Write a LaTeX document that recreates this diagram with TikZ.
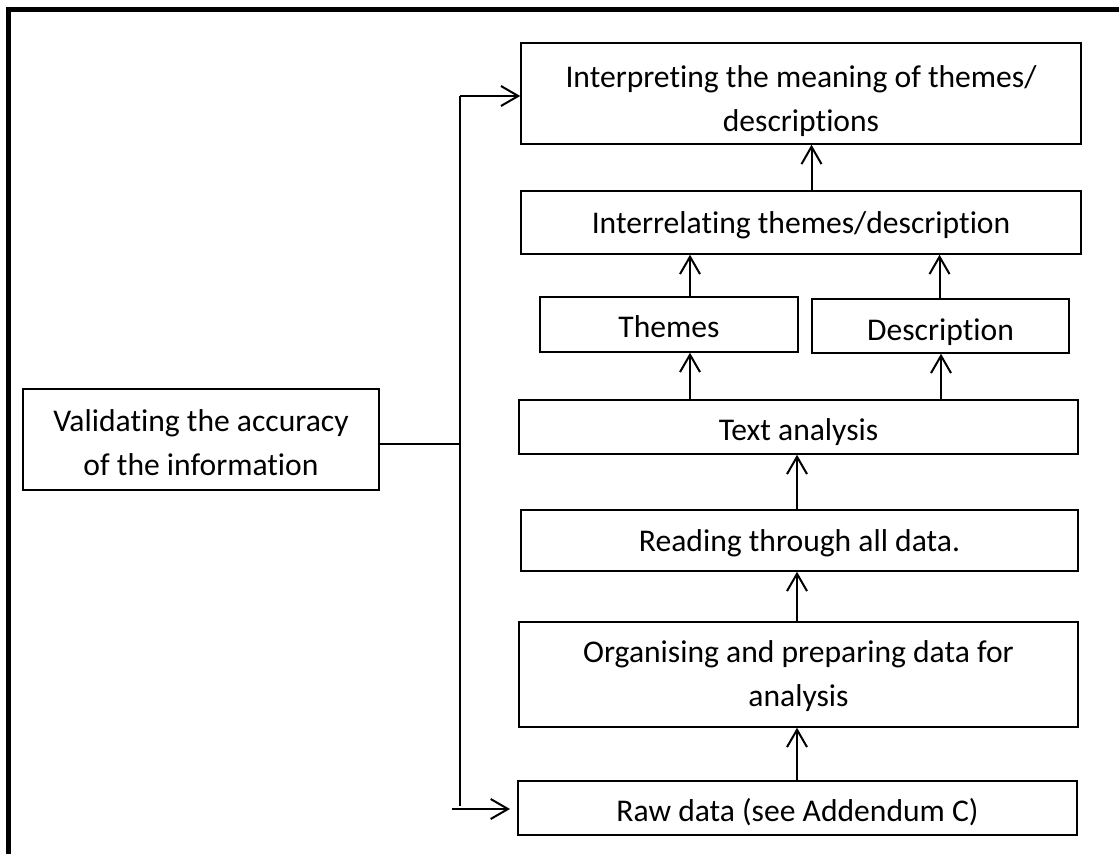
\documentclass[tikz,border=0pt]{standalone}
\usepackage{fontspec}
\setmainfont{Carlito}[Ligatures={NoCommon}]
\usetikzlibrary{arrows.meta}
\begin{document}
\begin{tikzpicture}[x=0.75pt,y=-0.75pt,
  box/.style={draw=black, line width=1.1pt, inner sep=0pt},
  boxtext/.style={inner sep=0pt, align=center,
    font=\fontsize{23.7}{33}\selectfont, text=black},
  conn/.style={line width=1.5pt},
  arr/.style={line width=1.5pt, -{Straight Barb[length=13pt,width=15pt]}},
  frameline/.style={line width=3.4pt, line join=miter}]
\useasboundingbox (0,0) rectangle (1119,853);
% frame (only top and left edges visible)
\draw[frameline] (8.5,860) -- (8.5,9.5) -- (1125,9.5);
% boxes
\node[box, minimum width=420pt, minimum height=75.75pt,
  label={[boxtext, yshift=-5.5pt]center:{Interpreting the meaning of themes/\\descriptions}}]
  (interp) at (801,93.5) {};
\node[box, minimum width=420pt, minimum height=47.25pt,
  label={[boxtext, yshift=-1.5pt]center:{\strut Interrelating themes/description}}]
  (interrel) at (801,222.5) {};
\node[box, minimum width=193.5pt, minimum height=41.25pt,
  label={[boxtext, yshift=-3.2pt]center:{\strut Themes}}]
  (themes) at (669,324.5) {};
\node[box, minimum width=192.75pt, minimum height=40.5pt,
  label={[boxtext, yshift=-4.2pt]center:{\strut Description}}]
  (desc) at (940.5,326) {};
\node[box, minimum width=419.25pt, minimum height=40.5pt,
  label={[boxtext, yshift=-3.6pt]center:{\strut Text analysis}}]
  (textan) at (798.5,427) {};
\node[box, minimum width=417.75pt, minimum height=45.75pt,
  label={[boxtext, yshift=-2pt]center:{\strut Reading through all data.}}]
  (reading) at (799.5,540.5) {};
\node[box, minimum width=419.25pt, minimum height=78.75pt,
  label={[boxtext, yshift=-1.5pt]center:{Organising and preparing data for\\analysis}}]
  (organ) at (798.5,674.5) {};
\node[box, minimum width=419.25pt, minimum height=40.5pt,
  label={[boxtext, yshift=-3.8pt]center:{\strut Raw data (see Addendum C)}}]
  (raw) at (797.5,808) {};
\node[box, minimum width=267pt, minimum height=75.75pt,
  label={[boxtext, yshift=-2.5pt]center:{Validating the accuracy\\of the information}}]
  (valid) at (201,439.5) {};
% helper coordinates
\coordinate (cInterp) at (811.5,0);
\coordinate (cThemes) at (690,0);
\coordinate (cDescA) at (939.5,0);
\coordinate (cDescB) at (941,0);
\coordinate (cMain) at (797,0);
\coordinate (bus) at (460,444);
\coordinate (busTop) at (460,96);
\coordinate (busBot) at (460,806);
\coordinate (rawIn) at (452,809);
\coordinate (rawTip) at (510,809);
% vertical flow arrows
\draw[arr] (interrel.north -| cInterp) -- (interp.south -| cInterp);
\draw[arr] (themes.north -| cThemes) -- (interrel.south -| cThemes);
\draw[arr] (desc.north -| cDescA) -- (interrel.south -| cDescA);
\draw[arr] (textan.north -| cThemes) -- (themes.south -| cThemes);
\draw[arr] (textan.north -| cDescB) -- (desc.south -| cDescB);
\draw[arr] (reading.north -| cMain) -- (textan.south -| cMain);
\draw[arr] (organ.north -| cMain) -- (reading.south -| cMain);
\draw[arr] (raw.north -| cMain) -- (organ.south -| cMain);
% validation bus
\draw[conn] (valid.east |- bus) -- (bus);
\draw[conn] (busTop) -- (busBot);
\draw[arr] (busTop) -- (interp.west |- busTop);
\draw[arr] (rawIn) -- (rawTip);
\end{tikzpicture}
\end{document}
